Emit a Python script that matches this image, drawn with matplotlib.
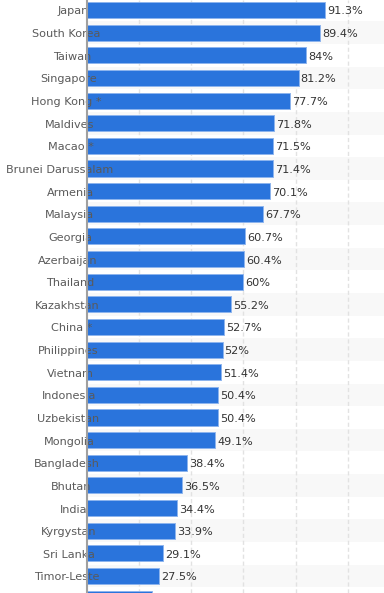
import matplotlib
matplotlib.use("Agg")
import matplotlib.pyplot as plt

countries = ["Japan", "South Korea", "Taiwan", "Singapore", "Hong Kong *", "Maldives",
             "Macao *", "Brunei Darussalam", "Armenia", "Malaysia", "Georgia", "Azerbaijan",
             "Thailand", "Kazakhstan", "China *", "Philippines", "Vietnam", "Indonesia",
             "Uzbekistan", "Mongolia", "Bangladesh", "Bhutan", "India", "Kyrgystan",
             "Sri Lanka", "Timor-Leste", ""]
values = [91.3, 89.4, 84, 81.2, 77.7, 71.8, 71.5, 71.4, 70.1, 67.7, 60.7, 60.4, 60,
          55.2, 52.7, 52, 51.4, 50.4, 50.4, 49.1, 38.4, 36.5, 34.4, 33.9, 29.1, 27.5, 24.8]
value_labels = ["91.3%", "89.4%", "84%", "81.2%", "77.7%", "71.8%", "71.5%", "71.4%",
                "70.1%", "67.7%", "60.7%", "60.4%", "60%", "55.2%", "52.7%", "52%",
                "51.4%", "50.4%", "50.4%", "49.1%", "38.4%", "36.5%", "34.4%", "33.9%",
                "29.1%", "27.5%", ""]
grid_ticks = [20, 40, 60, 80, 100]

W, H = 384, 593
fig = plt.figure(figsize=(W / 100, H / 100), dpi=100)
left_px = 87
ax = fig.add_axes([left_px / W, 0, (W - left_px) / W, 1])
px_per_unit = 2.607
ax.set_xlim(0, (W - left_px) / px_per_unit)
row_px = 22.64
ax.set_ylim((H - 10) / row_px, -10 / row_px)

PT = 0.72  # points per pixel at dpi 100
ypos = list(range(len(countries)))
for i in ypos:
    if i % 2 == 1:
        ax.axhspan(i - 0.5, i + 0.5, color="#f8f8f8", zorder=0, lw=0)

for g in grid_ticks:
    ax.axvline(g, color="#e2e2e2", lw=1.0, ls=(0, (3, 2)), zorder=1)

ax.barh(ypos, values, height=0.71, color="#2a74dc", edgecolor="#8db4ee",
        linewidth=0.7, zorder=2)

base_dy = -4.5 * PT
for i, (v, lab) in enumerate(zip(values, value_labels)):
    ax.annotate(lab, (v, i), xytext=(2 * PT, base_dy), textcoords="offset points",
                ha="left", va="baseline", fontsize=8.1, color="#333333", zorder=4)

renderer = fig.canvas.get_renderer()
for i, c in enumerate(countries):
    t = ax.annotate(c, (0, i), xytext=(0, base_dy), textcoords="offset points",
                    ha="left", va="baseline", fontsize=8.1, color="#5a5a5a",
                    zorder=5, annotation_clip=False)
    w = t.get_window_extent(renderer).width if c else 0
    left = 78.5 - 0.675 * w
    t.xyann = ((left - left_px) * PT, base_dy)

for s in ["top", "right", "bottom"]:
    ax.spines[s].set_visible(False)
ax.spines["left"].set_color("#a0a0a0")
ax.spines["left"].set_linewidth(1.5)
ax.spines["left"].set_zorder(6)
ax.set_xticks([])
ax.set_yticks([])

fig.savefig("out.png", dpi=100)
